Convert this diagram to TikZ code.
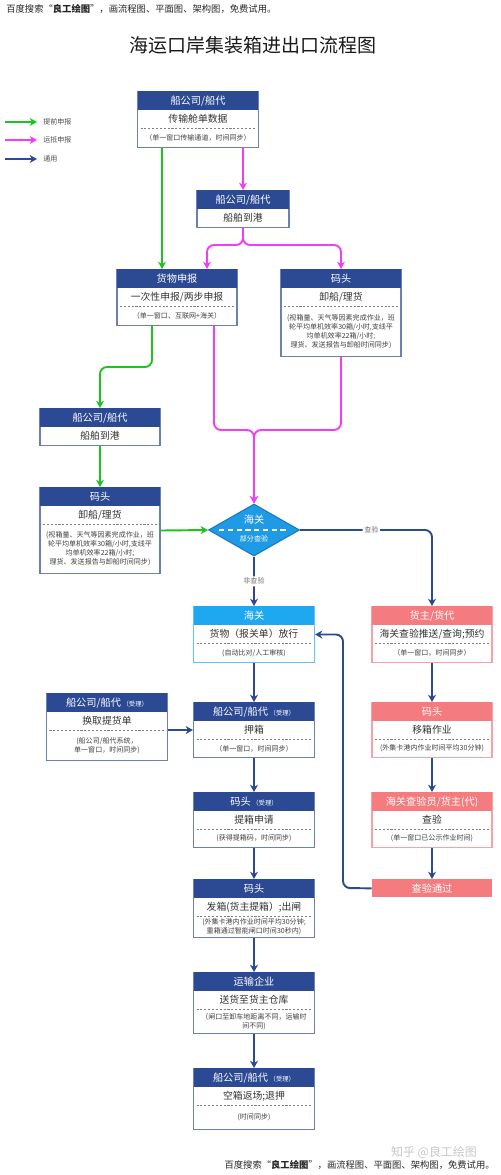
\documentclass[tikz,border=0pt]{standalone}
\usepackage{fontspec}
\setmainfont{Noto Sans CJK SC}
\usetikzlibrary{arrows.meta,shapes.geometric,calc,positioning}

\definecolor{navy}{RGB}{44,74,148}
\definecolor{skyblue}{RGB}{30,168,240}
\definecolor{salmon}{RGB}{244,123,126}
\definecolor{flowgreen}{RGB}{30,195,30}
\definecolor{flowpink}{RGB}{245,60,245}
\definecolor{diafill}{RGB}{30,155,228}
\definecolor{diaedge}{RGB}{25,120,195}

% box with header, main text, dashed rule and a note
\newcommand{\flowbox}[8]{%
  \node[boxframe, draw=#2!70, minimum width=#4, minimum height=#5] (#1) at #3 {};
  \node[boxhead, fill=#2, minimum width=#4] (#1-h) at (#1.north) {#6};
  \node[boxmain] (#1-m) at ([yshift=-0.56cm]#1.north) {#7};
  \draw[boxsep] ([xshift=2pt,yshift=-0.74cm]#1.north west) -- ([xshift=-2pt,yshift=-0.74cm]#1.north east);
  \node[boxnote] (#1-n) at ($([yshift=-0.74cm]#1.north)!0.5!(#1.south)$) {#8};
}
% box with header and main text only
\newcommand{\shortbox}[6]{%
  \node[boxframe, draw=#2!70, minimum width=#4, minimum height=0.74cm] (#1) at #3 {};
  \node[boxhead, fill=#2, minimum width=#4] (#1-h) at (#1.north) {#5};
  \node[boxmain] (#1-m) at ([yshift=-0.56cm]#1.north) {#6};
}
\newcommand{\accept}{\,{\fontsize{3.6}{4}\selectfont（受理）}}

\begin{document}
\begin{tikzpicture}[x=0.02cm,y=-0.02cm]
  \tikzstyle{boxframe}=[rectangle, anchor=north, fill=white, line width=0.6pt, inner sep=0pt]
  \tikzstyle{boxhead}=[rectangle, anchor=north, inner sep=0pt, minimum height=0.38cm, text=white, font=\fontsize{5.8}{6}\selectfont]
  \tikzstyle{boxmain}=[inner sep=0pt, text=black!80, font=\fontsize{5.6}{6}\selectfont]
  \tikzstyle{boxnote}=[inner sep=0pt, align=center, text=black!75, font=\fontsize{4}{5.1}\selectfont]
  \tikzstyle{boxsep}=[dash pattern=on 1.2pt off 1pt, black!50, line width=0.4pt]
  \tikzstyle{passbox}=[rectangle, anchor=north, fill=salmon, text=white, inner sep=0pt, minimum width=2.4cm, minimum height=0.36cm, font=\fontsize{5.8}{6}\selectfont]
  \tikzstyle{gatediamond}=[diamond, fill=diafill, draw=diaedge, line width=0.6pt, minimum width=1.82cm, minimum height=1.04cm, inner sep=0pt]
  \tikzstyle{flowarrow}=[line width=1.1pt, -{Stealth[length=4.2pt,width=4.6pt]}, rounded corners=4pt]
  \tikzstyle{greenarrow}=[flowarrow, flowgreen]
  \tikzstyle{pinkarrow}=[flowarrow, flowpink]
  \tikzstyle{navyarrow}=[flowarrow, navy]
  \tikzstyle{edgelabel}=[fill=white, inner sep=1pt, text=black!55, font=\fontsize{4}{5}\selectfont]
  \tikzstyle{legendtext}=[anchor=west, inner sep=0pt, text=black!70, font=\fontsize{4}{5}\selectfont]
  \tikzstyle{adtext}=[inner sep=0pt, text=black!85, font=\fontsize{5.3}{6}\selectfont]

  \useasboundingbox (0,0) rectangle (500,1175);

  % heading
  \node[adtext, anchor=west] (adtop) at (6,9) {百度搜索“\textbf{良工绘图}”，画流程图、平面图、架构图，免费试用。};
  \node[font=\fontsize{10.8}{12}\selectfont, text=black!90] (title) at (253,45) {海运口岸集装箱进出口流程图};

  % legend
  \node[legendtext] (lg1) at (43,122) {提前申报};
  \node[legendtext] (lg2) at (43,140) {运抵申报};
  \node[legendtext] (lg3) at (43,159) {通用};
  \draw[greenarrow] ([xshift=-0.76cm]lg1.west) -- ([xshift=-0.12cm]lg1.west);
  \draw[pinkarrow] ([xshift=-0.76cm]lg2.west) -- ([xshift=-0.12cm]lg2.west);
  \draw[navyarrow] ([xshift=-0.76cm]lg3.west) -- ([xshift=-0.12cm]lg3.west);

  % import side
  \flowbox{ship1}{navy}{(198,91)}{2.42cm}{1.12cm}{船公司/船代}{传输舱单数据}{（单一窗口传输通道，时间同步）}
  \shortbox{arrive1}{navy}{(243,190)}{1.84cm}{船公司/船代}{船舶到港}
  \flowbox{declare}{navy}{(177,269)}{2.4cm}{1.12cm}{货物申报}{一次性申报/两步申报}{（单一窗口、互联网+海关）}
  \flowbox{wharf1}{navy}{(341,269)}{2.4cm}{1.74cm}{码头}{卸船/理货}{(视箱量、天气等因素完成作业，班\\轮平均单机效率30箱/小时,支线平\\均单机效率22箱/小时;\\理货、发送报告与卸船时间同步)}
  \shortbox{arrive2}{navy}{(100,408)}{2.4cm}{船公司/船代}{船舶到港}
  \flowbox{wharf2}{navy}{(100,487)}{2.4cm}{1.72cm}{码头}{卸船/理货}{(视箱量、天气等因素完成作业，班\\轮平均单机效率30箱/小时,支线平\\均单机效率22箱/小时;\\理货、发送报告与卸船时间同步)}

  % customs
  \node[gatediamond] (customs) at (254,530) {};
  \node[text=white, inner sep=0pt, font=\fontsize{5.8}{6}\selectfont] (customs-t) at ([yshift=0.2cm]customs.center) {海关};
  \draw[white, line width=0.9pt, dash pattern=on 3pt off 2pt] ([xshift=0.22cm]customs.west) -- ([xshift=-0.22cm]customs.east);
  \node[text=white, inner sep=0pt, font=\fontsize{4}{5}\selectfont] (customs-n) at ([yshift=-0.17cm]customs.center) {部分查验};

  % release side
  \flowbox{release}{skyblue}{(254,606)}{2.42cm}{1.12cm}{海关}{货物（报关单）放行}{(自动比对/人工审核)}
  \flowbox{owner}{salmon}{(432,606)}{2.4cm}{1.12cm}{货主/货代}{海关查验推送/查询;预约}{（单一窗口，时间同步）}
  \flowbox{bill}{navy}{(107,693)}{2.42cm}{1.34cm}{船公司/船代\accept}{换取提货单}{(船公司/船代系统，\\单一窗口，时间同步)}
  \flowbox{deposit}{navy}{(254,702)}{2.42cm}{1.1cm}{船公司/船代\accept}{押箱}{（单一窗口，时间同步）}
  \flowbox{move}{salmon}{(432,702)}{2.4cm}{1.1cm}{码头}{移箱作业}{(外集卡港内作业时间平均30分钟)}
  \flowbox{apply}{navy}{(254,792)}{2.42cm}{1.1cm}{码头\accept}{提箱申请}{(获得提箱码，时间同步)}
  \flowbox{inspect}{salmon}{(432,792)}{2.4cm}{1.1cm}{海关查验员/货主(代)}{查验}{(单一窗口已公示作业时间)}
  \node[passbox] (pass) at (432,879) {查验通过};
  \flowbox{gate}{navy}{(254,879)}{2.42cm}{1.16cm}{码头}{发箱(货主提箱）;出闸}{(外集卡港内作业时间平均30分钟;\\重箱通过智能闸口时间30秒内)}
  \flowbox{haul}{navy}{(254,972)}{2.42cm}{1.22cm}{运输企业}{送货至货主仓库}{（闸口至卸车地距离不同，运输时\\间不同)}
  \flowbox{return}{navy}{(254,1068)}{2.42cm}{1.22cm}{船公司/船代\accept}{空箱返场;退押}{(时间同步)}

  % footer
  \node[inner sep=0pt, text=black!22, font=\fontsize{6.8}{8}\selectfont] (zhihu) at (434,1152) {知乎 @良工绘图};
  \node[adtext, anchor=east] (adbottom) at (495,1165) {百度搜索“\textbf{良工绘图}”，画流程图、平面图、架构图，免费试用。};

  % lanes
  \coordinate (g1) at (162,0);
  \coordinate (g2) at (152,367);
  \coordinate (m1) at (207,0);
  \coordinate (m2) at (214,0);
  \coordinate (split) at (243,245);
  \coordinate (merge) at (254,430);
  \coordinate (back) at (343,888);

  % advance declaration
  \draw[greenarrow] (ship1.south -| g1) -- (declare.north -| g1);
  \draw[greenarrow] (declare.south -| g2) -- (g2) -| (arrive2.north);
  \draw[greenarrow] (arrive2.south) -- (wharf2.north);
  \draw[greenarrow] (wharf2.east) -- (customs.west);

  % arrival declaration
  \draw[pinkarrow] (ship1.south -| arrive1.north) -- (arrive1.north);
  \draw[pinkarrow] (arrive1.south) -- (split) -| (declare.north -| m1);
  \draw[pinkarrow] (arrive1.south) -- (split) -| (wharf1.north);
  \draw[pinkarrow] (declare.south -| m2) |- (merge) -- (customs.north);
  \draw[pinkarrow] (wharf1.south) |- (merge) -- (customs.north);

  % common
  \draw[navyarrow] (customs.east) -| (owner.north) node[pos=0.27, edgelabel] {查验};
  \draw[navyarrow] (customs.south) -- (release.north) node[midway, edgelabel] {非查验};
  \draw[navyarrow] (release) -- (deposit);
  \draw[navyarrow] (owner) -- (move);
  \draw[navyarrow] (bill.east |- deposit.west) -- (deposit.west);
  \draw[navyarrow] (deposit) -- (apply);
  \draw[navyarrow] (move) -- (inspect);
  \draw[navyarrow] (inspect) -- (pass);
  \draw[navyarrow] (apply) -- (gate);
  \draw[navyarrow] (gate) -- (haul);
  \draw[navyarrow] (haul) -- (return);
  \draw[navyarrow] (pass.west) -- (back) |- (release.east);
\end{tikzpicture}
\end{document}
